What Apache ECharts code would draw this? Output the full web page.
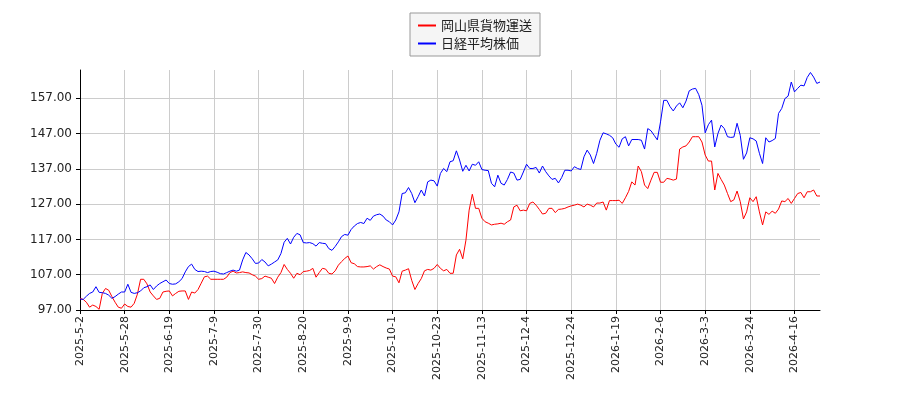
<!DOCTYPE html>
<html>
<head>
<meta charset="utf-8">
<script src="https://cdn.jsdelivr.net/npm/echarts@6/dist/echarts.min.js"></script>
<style>
  html, body { margin: 0; padding: 0; background: #fff; }
  #main { width: 900px; height: 400px; }
</style>
</head>
<body>
<div id="main"></div>
<script>
// trading days shown on the chart, month by month
var tradingDays = [
  ['2025-5', [2, 7, 8, 9, 12, 14, 15, 16, 19, 20, 22, 23, 26, 27, 28, 29, 30]],
  ['2025-6', [2, 3, 5, 6, 9, 10, 11, 13, 16, 17, 18, 19, 20, 23, 24, 25, 26, 27, 30]],
  ['2025-7', [1, 2, 3, 4, 7, 8, 9, 10, 11, 14, 15, 16, 17, 18, 22, 23, 24, 25, 28, 29, 30, 31]],
  ['2025-8', [1, 4, 5, 6, 7, 8, 12, 13, 14, 15, 18, 19, 20, 21, 22, 25, 26, 27, 28, 29]],
  ['2025-9', [1, 2, 3, 4, 5, 8, 9, 10, 11, 12, 16, 17, 18, 19, 22, 24, 25, 26, 29, 30]],
  ['2025-10', [1, 2, 3, 6, 7, 9, 10, 14, 15, 16, 17, 20, 21, 22, 23, 24, 27, 28, 29, 30, 31]],
  ['2025-11', [4, 5, 6, 7, 10, 11, 12, 13, 14, 17, 18, 19, 20, 21, 25, 26, 27, 28]],
  ['2025-12', [1, 2, 3, 4, 5, 8, 9, 10, 11, 12, 15, 16, 17, 18, 19, 22, 23, 24, 25, 26, 29, 30]],
  ['2026-1', [5, 6, 7, 8, 9, 13, 14, 15, 16, 19, 20, 21, 22, 23, 26, 27, 28, 29, 30]],
  ['2026-2', [2, 3, 4, 5, 6, 9, 10, 12, 16, 17, 18, 19, 20, 24, 25, 26, 27]],
  ['2026-3', [2, 3, 4, 5, 6, 9, 10, 11, 12, 13, 16, 17, 18, 19, 23, 24, 25, 26, 30, 31]],
  ['2026-4', [1, 2, 6, 7, 8, 10, 13, 14, 15, 16, 17, 20, 21, 22, 23, 24, 27, 28]]
];

var okayamaKamotsu = [
  100.3, 100.0, 99.2, 97.8, 98.4, 98.0, 97.2, 101.7, 103.1, 102.6,
  100.8, 99.2, 97.8, 97.5, 98.7, 98.0, 97.8, 98.9, 101.5, 105.7,
  105.7, 104.4, 102.1, 101.0, 100.0, 100.3, 102.1, 102.3, 102.4, 101.0,
  101.7, 102.3, 102.4, 102.4, 100.0, 102.1, 101.8, 102.8, 104.6, 106.4,
  106.6, 105.7, 105.7, 105.7, 105.7, 105.7, 106.3, 107.6, 108.0, 107.5,
  107.6, 107.8, 107.6, 107.5, 107.0, 106.6, 105.7, 105.9, 106.6, 106.3,
  106.0, 104.5, 106.3, 107.6, 109.9, 108.5, 107.4, 106.0, 107.4, 107.0,
  107.9, 108.0, 108.2, 108.8, 106.3, 107.6, 108.8, 108.6, 107.4, 107.2,
  108.1, 109.7, 110.7, 111.6, 112.3, 110.4, 110.1, 109.3, 109.2, 109.2,
  109.3, 109.5, 108.6, 109.3, 109.8, 109.3, 108.9, 108.6, 106.6, 106.4,
  104.7, 108.0, 108.3, 108.7, 105.4, 102.8, 104.5, 105.9, 108.1, 108.5,
  108.3, 108.8, 109.9, 108.8, 108.1, 108.5, 107.4, 107.4, 112.6, 114.2,
  111.5, 116.8, 125.3, 129.8, 125.8, 125.8, 123.0, 122.0, 121.6, 121.1,
  121.3, 121.4, 121.6, 121.3, 122.0, 122.5, 126.2, 126.7, 125.1, 125.3,
  125.1, 127.2, 127.6, 126.7, 125.5, 124.2, 124.4, 125.8, 125.8, 124.6,
  125.5, 125.6, 125.8, 126.2, 126.5, 126.7, 127.0, 126.7, 126.2, 127.0,
  126.7, 126.2, 127.3, 127.3, 127.6, 125.3, 128.0, 128.0, 128.0, 128.1,
  127.2, 128.8, 130.6, 133.3, 132.4, 137.8, 136.2, 132.4, 131.4, 133.8,
  136.0, 136.0, 133.2, 133.2, 134.3, 134.1, 133.8, 134.1, 142.6, 143.2,
  143.5, 144.6, 146.1, 146.1, 146.1, 144.6, 140.9, 139.2, 139.2, 131.0,
  135.7, 134.0, 132.4, 130.0, 127.7, 128.2, 130.7, 127.7, 122.8, 124.8,
  128.8, 127.7, 129.1, 124.8, 121.1, 124.8, 124.1, 125.0, 124.4, 125.6,
  127.9, 127.7, 128.6, 127.2, 128.6, 130.0, 130.3, 128.8, 130.5, 130.5,
  131.0, 129.3, 129.3
];

var nikkei = [
  100.1, 100.0, 100.9, 101.7, 102.1, 103.6, 102.0, 101.9, 101.7, 101.2,
  100.3, 100.8, 101.5, 102.1, 102.1, 104.3, 102.0, 101.7, 101.9, 102.4,
  103.3, 103.6, 104.1, 102.8, 103.8, 104.5, 105.0, 105.5, 104.5, 104.3,
  104.4, 105.0, 105.9, 107.8, 109.3, 110.0, 108.5, 107.9, 108.0, 107.9,
  107.6, 107.9, 108.0, 107.7, 107.3, 107.2, 107.6, 108.0, 108.3, 108.0,
  108.3, 111.2, 113.3, 112.6, 111.5, 110.2, 110.3, 111.3, 110.6, 109.5,
  110.0, 110.6, 111.2, 113.0, 116.2, 117.3, 115.7, 117.6, 118.7, 118.3,
  116.1, 116.0, 116.1, 115.8, 115.1, 116.1, 115.9, 115.8, 114.4, 113.9,
  115.0, 116.3, 117.8, 118.4, 118.2, 119.8, 120.8, 121.5, 121.8, 121.5,
  123.0, 122.4, 123.6, 124.0, 124.2, 123.6, 122.5, 122.0, 121.1, 122.5,
  124.8, 130.0, 130.2, 131.7, 130.0, 127.4, 129.1, 131.0, 129.3, 133.3,
  133.8, 133.6, 132.1, 135.7, 137.1, 136.2, 139.0, 139.3, 142.1, 139.5,
  136.3, 138.0, 136.4, 138.3, 138.0, 139.0, 136.8, 136.6, 136.5, 132.9,
  131.9, 135.2, 132.9, 132.4, 134.0, 136.1, 135.8, 133.8, 134.0, 136.1,
  138.3, 137.1, 137.1, 137.4, 135.8, 137.8, 136.2, 135.0, 134.0, 134.3,
  133.0, 134.5, 136.6, 136.6, 136.4, 137.6, 137.1, 136.8, 140.4, 142.3,
  140.9, 138.5, 141.4, 145.1, 147.2, 146.9, 146.5, 145.8, 144.0, 143.1,
  145.5, 146.1, 143.5, 145.3, 145.3, 145.3, 145.1, 142.6, 148.4, 147.8,
  146.5, 145.2, 150.3, 156.4, 156.4, 154.6, 153.4, 154.8, 155.7, 154.3,
  156.2, 159.1, 159.6, 159.8, 158.0, 155.0, 147.2, 149.5, 150.8, 143.2,
  147.0, 149.4, 148.4, 146.1, 145.9, 146.0, 149.9, 146.5, 139.7, 141.5,
  145.8, 145.5, 144.9, 141.4, 138.5, 145.8, 144.6, 145.0, 145.6, 152.7,
  154.1, 156.9, 157.6, 161.6, 158.8, 159.8, 160.7, 160.5, 162.9, 164.3,
  163.0, 161.2, 161.6
];

var yTicks = [97, 107, 117, 127, 137, 147, 157];

var dates = [];
tradingDays.forEach(function (m) {
  m[1].forEach(function (d) { dates.push(m[0] + '-' + d); });
});

var myChart = echarts.init(document.getElementById('main'));

var option = {
  animation: false,
  textStyle: { fontFamily: 'DejaVu Sans' },
  legend: {
    data: ['岡山県貨物運送', '日経平均株価'],
    orient: 'vertical',
    left: 410,
    top: 13,
    backgroundColor: '#f5f5f5',
    borderColor: '#999',
    borderWidth: 1,
    borderRadius: 0,
    padding: [6, 8, 6, 8],
    itemGap: 5,
    itemWidth: 18,
    itemHeight: 2,
    icon: 'rect',
    textStyle: { fontSize: 13, color: '#222', fontFamily: 'Noto Sans CJK JP' }
  },
  grid: { left: 80, right: 80, top: 70, bottom: 90, containLabel: false, outerBoundsMode: 'none' },
  xAxis: {
    type: 'category',
    data: dates,
    boundaryGap: false,
    axisLine: { lineStyle: { color: '#000', width: 1 } },
    axisTick: { show: true, interval: 13, length: 4, lineStyle: { color: '#000' } },
    axisLabel: {
      interval: 13,
      rotate: 90,
      fontSize: 11,
      color: '#222',
      margin: 6
    },
    splitLine: { show: true, interval: 13, lineStyle: { color: '#ccc', width: 1 } }
  },
  yAxis: {
    type: 'value',
    min: 97,
    max: 165,
    axisLine: { show: true, lineStyle: { color: '#000', width: 1 } },
    axisTick: { show: true, length: 4, customValues: yTicks, lineStyle: { color: '#000' } },
    axisLabel: {
      customValues: yTicks,
      fontSize: 12,
      color: '#222',
      margin: 8,
      formatter: function (v) { return v.toFixed(2); }
    },
    splitLine: { show: true, lineStyle: { color: '#ccc', width: 1 } }
  },
  series: [
    {
      name: '岡山県貨物運送',
      type: 'line',
      data: okayamaKamotsu,
      showSymbol: false,
      color: '#ff0000',
      lineStyle: { color: '#ff0000', width: 1 }
    },
    {
      name: '日経平均株価',
      type: 'line',
      data: nikkei,
      showSymbol: false,
      color: '#0000ff',
      lineStyle: { color: '#0000ff', width: 1 }
    }
  ]
};

myChart.setOption(option);
</script>
</body>
</html>
